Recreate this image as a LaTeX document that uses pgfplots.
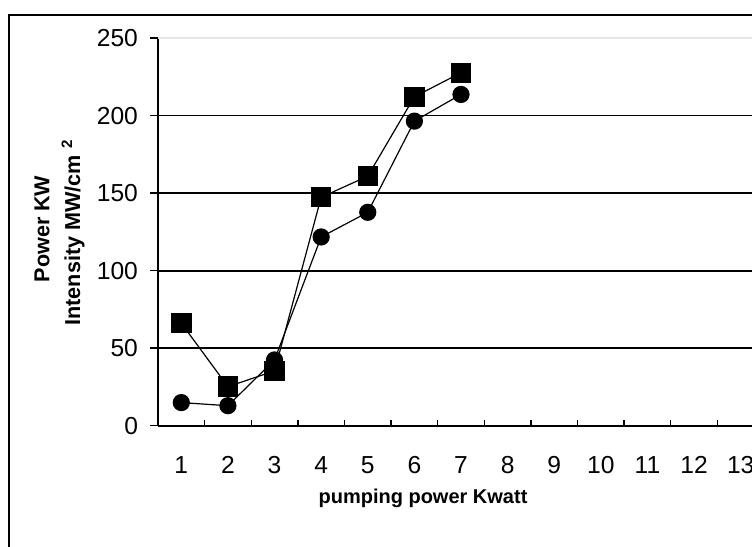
\documentclass[border=0pt]{standalone}
\usepackage{pgfplots}
\pgfplotsset{compat=1.18}
\usepackage{fontspec}
\setmainfont{Liberation Sans}
\begin{document}
\begin{tikzpicture}
\path[use as bounding box, clip] (0,0) rectangle (376pt,273.5pt);
\draw[line width=1.1pt] (4.5pt,266pt) rectangle (420pt,-30pt);
\begin{axis}[
  at={(79pt,60.65pt)}, anchor=south west,
  scale only axis, width=303pt, height=193.85pt,
  xmin=0.5, xmax=13.5, ymin=0, ymax=250,
  axis lines*=left,
  axis line style={line width=0.9pt, -},
  xtick={1,...,13},
  minor xtick={1.5,2.5,...,12.5},
  ytick={0,50,...,200},
  extra y ticks={250},
  extra y tick style={ymajorgrids=true, major grid style={gray!20, line width=0.6pt}},
  ymajorgrids=true,
  major grid style={black, line width=0.9pt},
  tick align=outside,
  major tick length=4pt,
  minor tick length=3pt,
  major x tick style={draw=none},
  minor x tick style={black, line width=0.7pt, yshift=3pt},
  ytick style={black, line width=0.7pt},
  xticklabel style={font=\fontsize{12.3}{14}\selectfont, anchor=center, yshift=-15.5pt},
  yticklabel style={font=\fontsize{12.3}{14}\selectfont, anchor=east, xshift=-2.5pt},
  /pgf/number format/assume math mode=true,
]
\addplot[black, line width=0.6pt, mark=square*, mark size=4.8pt, mark options={solid}]
  coordinates {(1,66.1)(2,25.2)(3,35.3)(4,147.3)(5,160.9)(6,212.1)(7,227.6)};
\addplot[black, line width=0.6pt, mark=*, mark size=4pt, mark options={solid}]
  coordinates {(1,14.9)(2,12.9)(3,42.4)(4,121.7)(5,137.6)(6,196.4)(7,213.6)};
\end{axis}
\node[rotate=90, font=\fontsize{10.8}{12}\selectfont\bfseries] at (21pt,159pt) {Power KW};
\node[rotate=90, font=\fontsize{10.8}{12}\selectfont\bfseries] at (36.5pt,157.25pt) {Intensity MW/cm \textsuperscript{2}};
\node[font=\fontsize{10}{12}\selectfont\bfseries] at (211.5pt,24.5pt) {pumping power Kwatt};
\end{tikzpicture}
\end{document}
